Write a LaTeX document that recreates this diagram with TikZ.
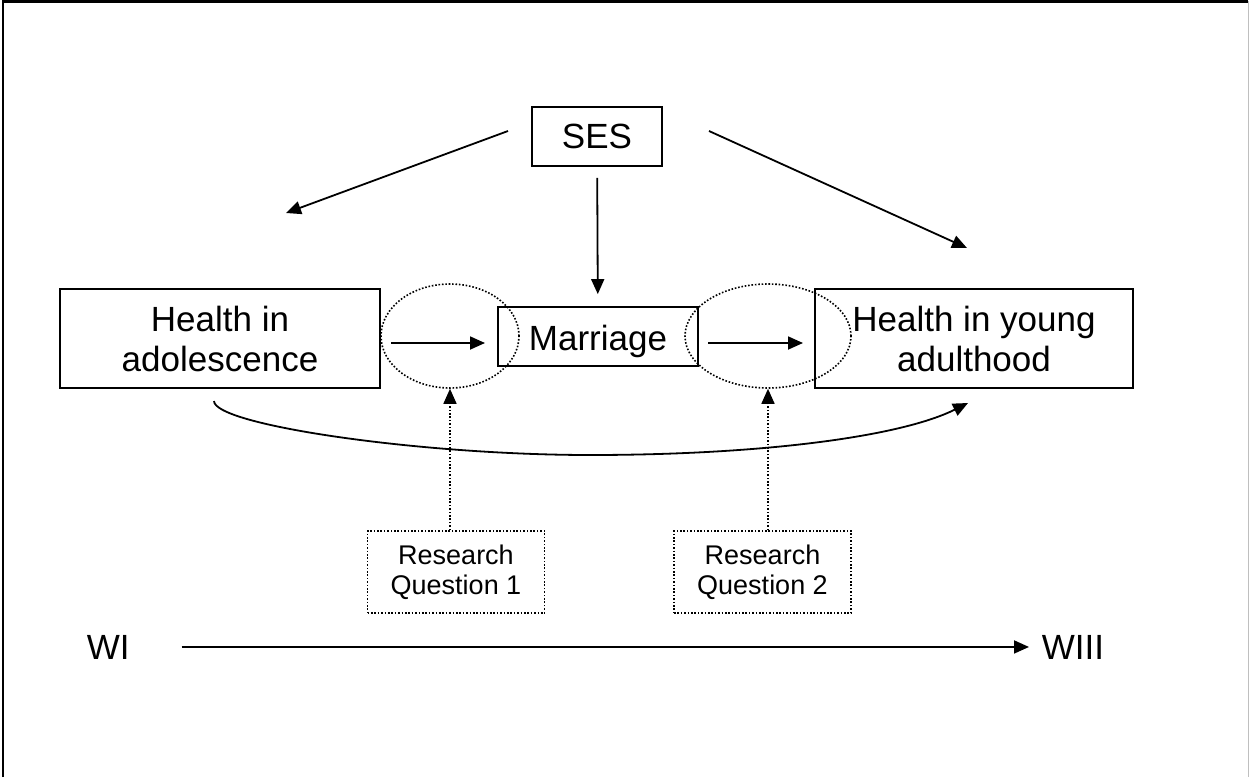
\documentclass[tikz,border=0pt]{standalone}
\usepackage{fontspec}
\setmainfont{Liberation Sans}
\usetikzlibrary{arrows.meta,shapes.geometric}

\begin{document}
\begin{tikzpicture}[x=1pt,y=-1pt,line width=1.8pt,
box/.style={draw,rectangle,inner sep=0pt,align=center,font=\fontsize{35}{40}\selectfont},
qbox/.style={draw,rectangle,inner sep=0pt,align=center,line width=1.6pt,dash pattern=on 1.6pt off 1.8pt,minimum width=177pt,minimum height=82pt,font=\fontsize{27}{30}\selectfont},
ring/.style={draw,ellipse,inner sep=0pt,line width=1.6pt,dash pattern=on 1.6pt off 1.8pt},
arr/.style={-{Triangle[length=15pt,width=13pt]}}]
\useasboundingbox(0,0)rectangle(1250,777);
\draw[line width=2.6pt](3,777)--(3,1.3)--(1248,1.3);\draw[line width=1pt,black!25](1248.5,1.3)--(1248.5,777);
% boxes
\node[box,minimum width=130pt,minimum height=59pt](ses)at(597,136.5){SES};
\node[box,minimum width=320pt,minimum height=99pt](hadol)at(220,338.5){Health in\\adolescence};
\node[box,minimum width=318pt,minimum height=99pt](hyoung)at(974,338.5){Health in young\\adulthood};
\node[box,minimum width=200pt,text height=43pt,text depth=16pt,anchor=base](marr)at(598,350){Marriage};
\node[ring,minimum width=138pt,minimum height=104pt](e1)at(450,336){};\node[ring,minimum width=166pt,minimum height=104pt](e2)at(768,336){};
\node[qbox](rq1)at(456,572){Research\\Question 1};\node[qbox](rq2)at(762.5,572){Research\\Question 2};
\node[font=\fontsize{35}{40}\selectfont,inner sep=0pt,anchor=base west](wi)at(86,659){WI};\node[font=\fontsize{35}{40}\selectfont,inner sep=0pt,anchor=base west](wiii)at(1041,659){WIII};
% arrows
\coordinate(sl)at(508,131);\coordinate(slend)at(286,213);\coordinate(sr)at(709,131);\coordinate(srend)at(967,248);
\coordinate(a1)at(391,343);\coordinate(a1end)at(485,343);\coordinate(a2)at(708,343);\coordinate(a2end)at(803,343);
\coordinate(cs)at(214,401);\coordinate(cb)at(590,455);\coordinate(ce)at(968,403);
\draw[arr](sl)--(slend);\draw[arr](sr)--(srend);\draw[arr,shorten <=11pt,shorten >=12pt](ses)--(marr);
\draw[arr](a1)--(a1end);\draw[arr](a2)--(a2end);
\draw[arr](cs)..controls(214,425)and(420,455)..(cb)..controls(760,455)and(900,437)..(ce);
\draw[arr,line width=1.6pt,dash pattern=on 1.6pt off 1.8pt](e1.south|-rq1.north)--(e1.south);
\draw[arr,line width=1.6pt,dash pattern=on 1.6pt off 1.8pt](e2.south|-rq2.north)--(e2.south);
\draw[arr,shorten <=51pt,shorten >=12pt](wi.east)--(wiii.west);
\end{tikzpicture}
\end{document}
